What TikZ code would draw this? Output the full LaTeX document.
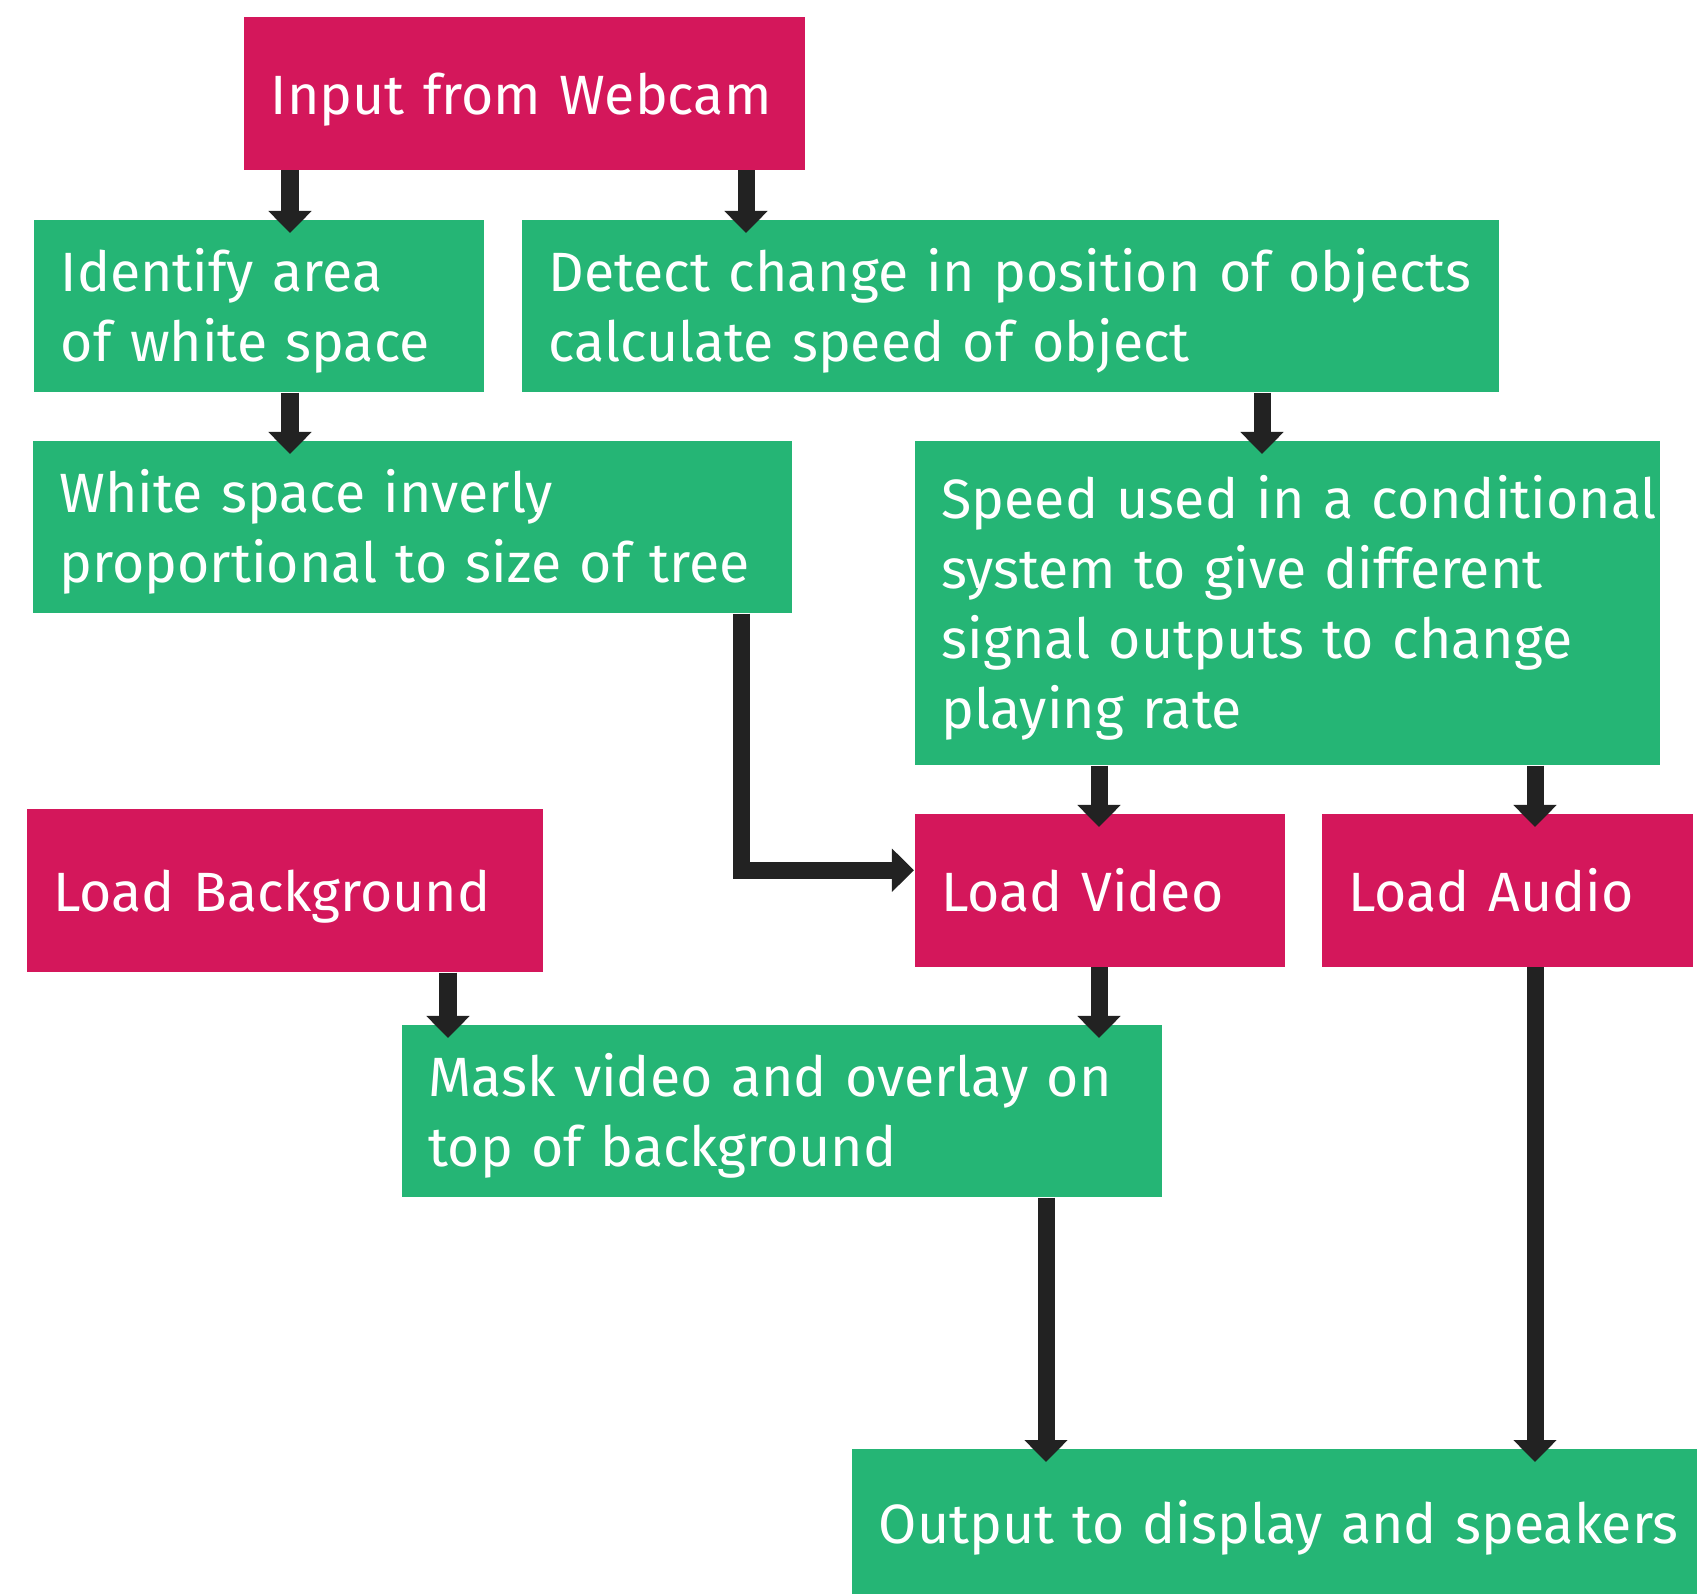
\documentclass[tikz,border=0pt]{standalone}
\usepackage{fontspec}
\setmainfont{Fira Sans}
\usetikzlibrary{arrows.meta}
\usetikzlibrary{positioning}
\definecolor{rosered}{HTML}{D4175B}
\definecolor{leafgreen}{HTML}{25B575}
\definecolor{inkgray}{HTML}{222222}
\newcommand{\boxlines}[1]{\raisebox{-0.07cm}[\height][\depth]{\begin{tabular}{@{}l@{}}#1\end{tabular}}}

\begin{document}
\begin{tikzpicture}[x=0.01cm, y=-0.01cm,
    stage/.style={anchor=north west, inner xsep=0.27cm, inner ysep=0pt, align=left,
      text=white, font=\fontsize{15.75}{19.9}\selectfont},
    source/.style={stage, fill=rosered},
    process/.style={stage, fill=leafgreen},
    flow/.style={draw=inkgray, line width=0.17cm,
      -{Triangle[length=0.22cm, width=0.42cm]}, shorten >=-0.14cm}]
  \useasboundingbox (0,0) rectangle (1708,1594);

  \node [source, minimum width=5.61cm, minimum height=1.53cm, text width=5.07cm] (webcam) at (243,16) {\boxlines{Input from Webcam}};
  \node [process, minimum width=4.50cm, minimum height=1.72cm, text width=3.96cm] (identify) at (33,219) {\boxlines{Identify area\\of white space}};
  \node [process, minimum width=9.77cm, minimum height=1.72cm, text width=9.23cm] (detect) at (521,219) {\boxlines{Detect change in position of objects\\calculate speed of object}};
  \node [process, minimum width=7.59cm, minimum height=1.72cm, text width=7.05cm] (whitespace) at (32,440) {\boxlines{White space inverly\\proportional to size of tree}};
  \node [process, minimum width=7.45cm, minimum height=3.24cm, text width=6.91cm] (speed) at (914,440) {\boxlines{Speed used in a conditional\\system to give different\\signal outputs to change\\playing rate}};
  \node [source, minimum width=5.16cm, minimum height=1.63cm, text width=4.62cm] (background) at (26,808) {\boxlines{Load Background}};
  \node [source, minimum width=3.70cm, minimum height=1.53cm, text width=3.16cm] (video) at (914,813) {\boxlines{Load Video}};
  \node [source, minimum width=3.71cm, minimum height=1.53cm, text width=3.17cm] (audio) at (1321,813) {\boxlines{Load Audio}};
  \node [process, minimum width=7.60cm, minimum height=1.72cm, text width=7.06cm] (mask) at (401,1024) {\boxlines{Mask video and overlay on\\top of background}};
  \node [process, minimum width=8.45cm, minimum height=1.48cm, text width=7.91cm] (output) at (851,1448) {\boxlines{Output to display and speakers}};

  \draw [flow] (290,0 |- webcam.south) -- (290,0 |- identify.north);
  \draw [flow] (746,0 |- webcam.south) -- (746,0 |- detect.north);
  \draw [flow] (290,0 |- identify.south) -- (290,0 |- whitespace.north);
  \draw [flow] (1262,0 |- detect.south) -- (1262,0 |- speed.north);
  \draw [flow, shorten >=0pt] (741,0 |- whitespace.south) |- ([yshift=0.2cm]video.west);
  \draw [flow] (1099,0 |- speed.south) -- (1099,0 |- video.north);
  \draw [flow] (1535,0 |- speed.south) -- (1535,0 |- audio.north);
  \draw [flow] (448,0 |- background.south) -- (448,0 |- mask.north);
  \draw [flow] (1099,0 |- video.south) -- (1099,0 |- mask.north);
  \draw [flow] (1046,0 |- mask.south) -- (1046,0 |- output.north);
  \draw [flow] (1535,0 |- audio.south) -- (1535,0 |- output.north);
\end{tikzpicture}
\end{document}
